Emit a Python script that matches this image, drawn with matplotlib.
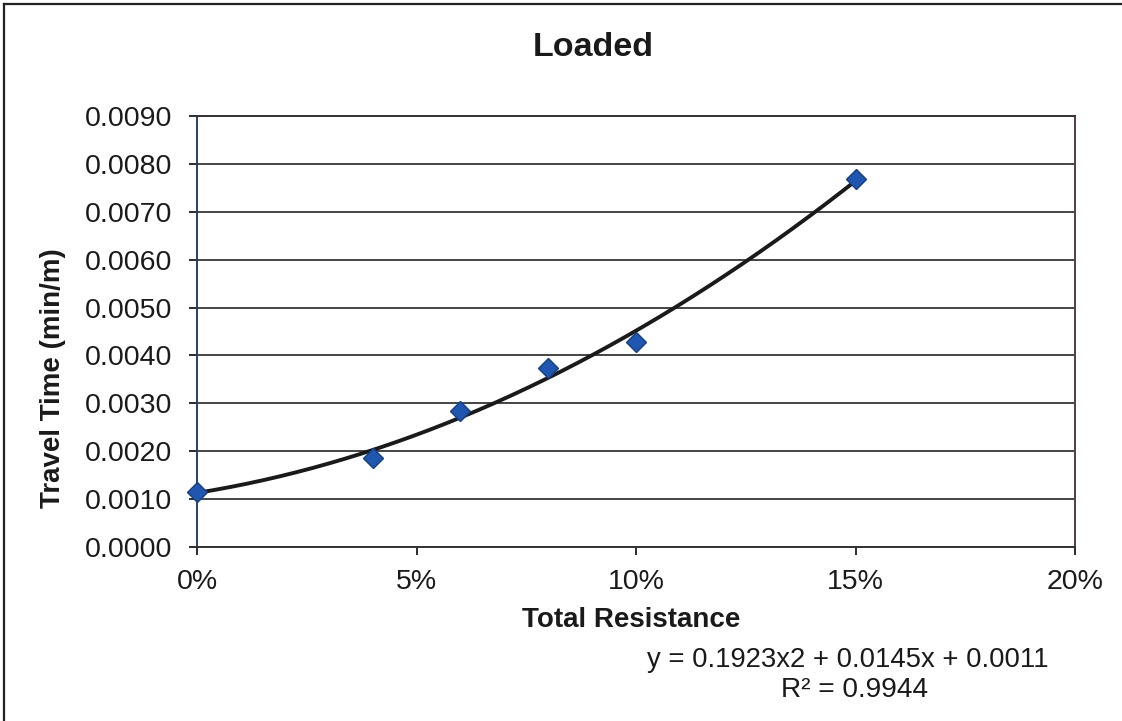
import numpy as np
import matplotlib
matplotlib.use("Agg")
import matplotlib.pyplot as plt
from matplotlib.lines import Line2D
from matplotlib.ticker import FuncFormatter

plt.rcParams['font.family'] = ['Liberation Sans', 'DejaVu Sans']

# Data
resistance = [0.00, 0.04, 0.06, 0.08, 0.10, 0.15]
travel_time = [0.00115, 0.00186, 0.00284, 0.00374, 0.00428, 0.00768]
y_ticks = [0.0, 0.001, 0.002, 0.003, 0.004, 0.005, 0.006, 0.007, 0.008, 0.009]
x_ticks = [0.0, 0.05, 0.10, 0.15, 0.20]
title = "Loaded"
xlabel = "Total Resistance"
ylabel = "Travel Time (min/m)"
eq_text = "y = 0.1923x2 + 0.0145x + 0.0011"
r2_text = "R\u00b2 = 0.9944"

fig = plt.figure(figsize=(11.22, 7.21), dpi=100)
ax = fig.add_axes([197/1122, 1-547/721, (1075-197)/1122, (547-116)/721])

# polynomial trendline (order 2) fitted to the data
coef = np.polyfit(resistance, travel_time, 2)
xs = np.linspace(min(resistance), max(resistance), 200)
ax.plot(xs, np.polyval(coef, xs), color='#1a1a1a', lw=2.8, zorder=3)

ax.plot(resistance, travel_time, linestyle='none', marker='D', ms=10.5,
        markerfacecolor='#1f56b0', markeredgecolor='#173f85', mew=1.0,
        zorder=4, clip_on=False)

ax.set_xlim(0, 0.20)
ax.set_ylim(0, 0.009)
ax.set_xticks(x_ticks)
ax.set_yticks(y_ticks)
ax.xaxis.set_major_formatter(FuncFormatter(lambda v, p: f"{v*100:.0f}%"))
ax.yaxis.set_major_formatter(FuncFormatter(lambda v, p: f"{v:.4f}"))
ax.tick_params(axis='both', labelsize=20.5, colors='#1a1a1a', direction='out',
               length=6, width=1.3)
ax.tick_params(axis='x', pad=10)
ax.tick_params(axis='y', pad=12)

ax.grid(axis='y', color='#444444', lw=1.4)
ax.set_axisbelow(True)
for s in ax.spines.values():
    s.set_color('#333333')
    s.set_linewidth(1.4)
ax.spines['left'].set_color('#2a3f66')
ax.spines['right'].set_color('#5a3a44')

fig.text(593/1122, 1-47/721, title, ha='center', va='center',
         fontsize=24.5, fontweight='bold', color='#1a1a1a')
fig.text(631/1122, 1-620/721, xlabel, ha='center', va='center',
         fontsize=20, fontweight='bold', color='#1a1a1a')
fig.text(53/1122, 1-378/721, ylabel, ha='center', va='center', rotation=90,
         fontsize=20, fontweight='bold', color='#1a1a1a')
fig.text(848/1122, 1-660/721, eq_text, ha='center', va='center',
         fontsize=19.8, color='#1a1a1a')
fig.text(855/1122, 1-690/721, r2_text, ha='center', va='center',
         fontsize=20.2, color='#1a1a1a')

# outer chart frame (left and top edges visible)
fig.add_artist(Line2D([4/1122, 4/1122], [0, 1-4/721], transform=fig.transFigure,
                      color='#222222', lw=1.6))
fig.add_artist(Line2D([4/1122, 1], [1-4/721, 1-4/721], transform=fig.transFigure,
                      color='#222222', lw=1.6))

fig.savefig("out.png", dpi=100)
